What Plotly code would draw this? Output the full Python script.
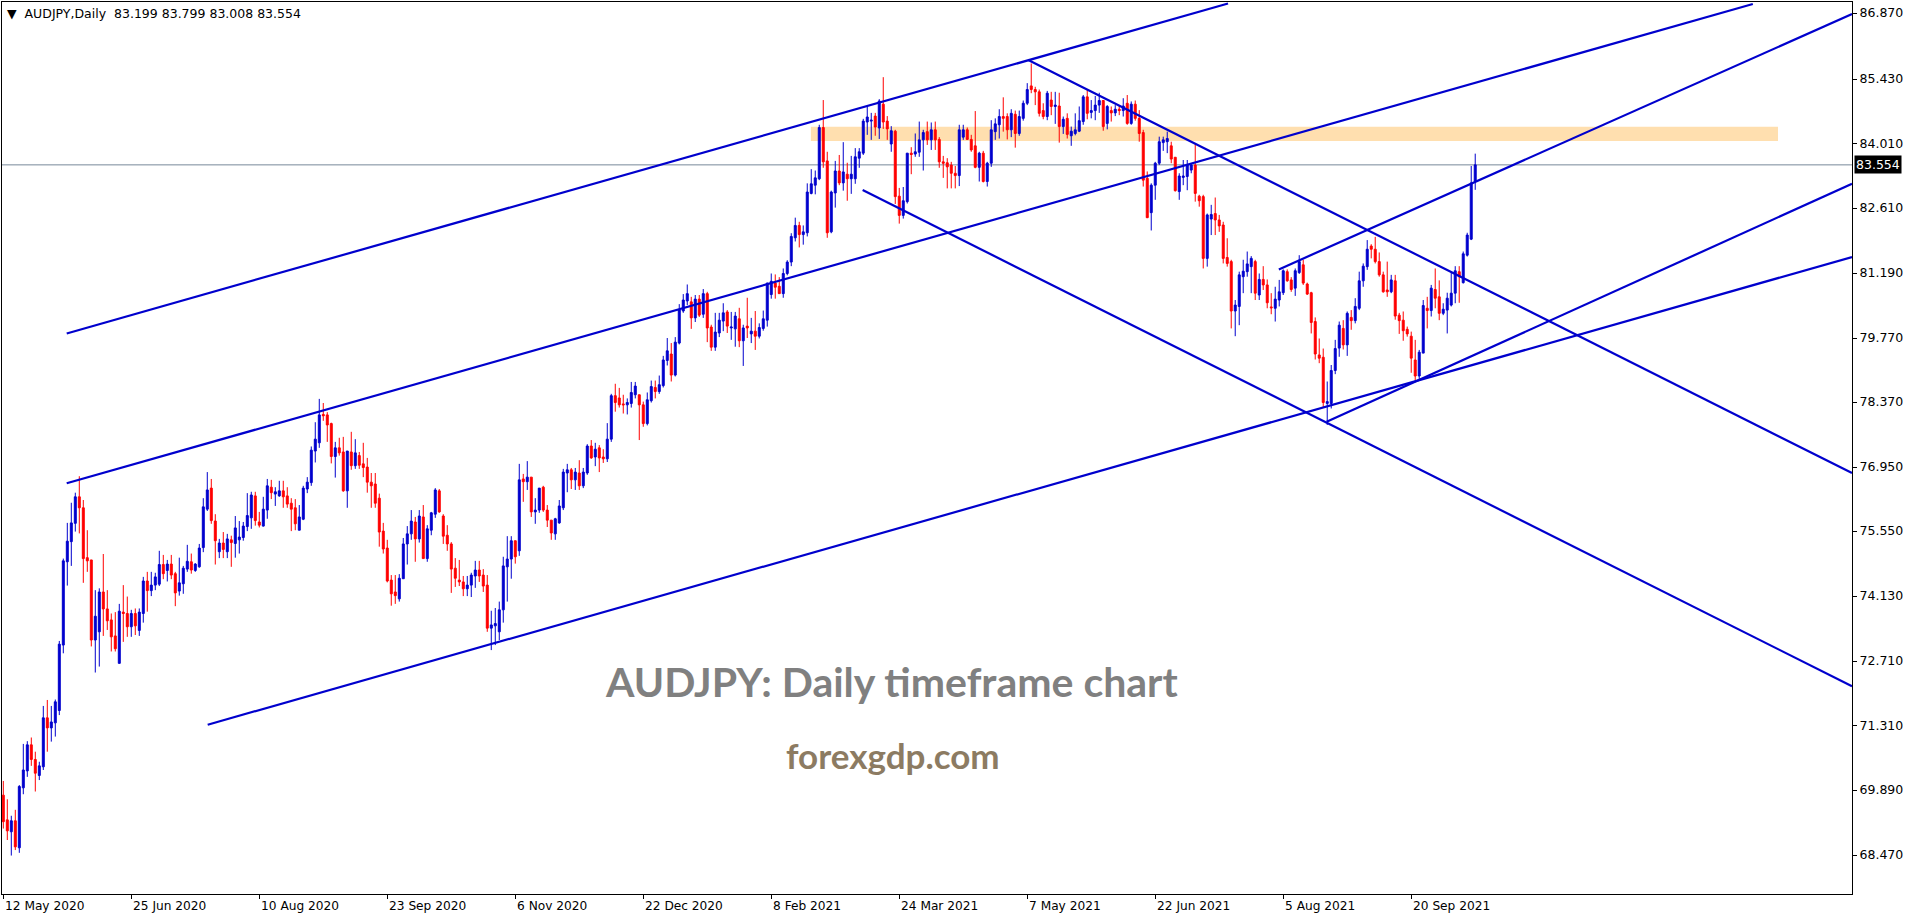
import plotly.graph_objects as go

# ---------------- data ----------------
OPEN = [
69.78,69.24,68.98,69.22,68.63,69.94,70.31,70.88,70.56,70.21,
70.40,71.47,71.25,71.36,71.63,73.06,74.88,75.32,75.72,76.30,
76.06,74.97,74.92,73.17,73.35,74.22,73.85,73.61,73.26,72.66,
73.78,73.75,73.46,73.75,73.38,73.75,74.46,74.25,74.37,74.39,
74.82,74.69,74.83,74.62,74.24,74.40,74.72,74.88,74.69,74.77,
75.19,76.03,76.49,75.77,75.10,75.29,75.10,75.36,75.28,75.36,
75.41,75.65,75.84,76.32,75.75,75.66,76.01,76.51,76.36,76.32,
76.43,76.32,76.16,76.06,75.57,75.81,76.47,76.61,77.30,77.48,
78.10,78.09,77.90,77.18,77.37,77.28,76.43,77.28,76.98,77.20,
77.02,76.95,76.62,76.58,76.27,75.55,75.18,74.48,74.22,74.07,
74.51,75.27,75.49,75.75,75.38,75.86,74.95,75.57,75.92,76.43,
75.88,75.46,75.27,74.74,74.48,74.44,74.29,74.37,74.57,74.70,
74.59,74.37,73.43,73.48,73.35,73.83,74.77,74.94,75.34,75.12,
76.69,76.63,76.73,75.97,76.01,76.51,76.01,75.79,75.49,75.73,
76.06,76.82,76.89,76.67,76.82,76.54,76.82,77.41,77.17,77.37,
77.17,77.13,77.56,78.51,78.46,78.33,78.31,78.34,78.53,78.53,
78.31,77.90,78.40,78.69,78.60,78.73,79.28,79.42,78.96,79.66,
80.36,80.58,80.56,80.21,80.62,80.29,80.74,80.01,79.57,79.88,
80.14,80.34,79.99,79.97,80.19,79.71,80.03,79.86,79.92,79.81,
79.98,80.16,80.72,80.97,80.90,80.74,81.18,81.43,81.96,82.23,
82.03,82.07,82.93,83.11,83.25,84.37,83.64,82.09,82.94,83.42,
83.16,83.35,83.25,83.25,83.70,83.81,84.49,84.51,84.62,84.36,
84.88,84.51,84.01,84.29,82.87,82.45,82.75,83.81,83.79,83.83,
84.10,84.28,84.10,84.32,84.11,83.62,83.60,83.55,83.37,83.32,
84.16,84.32,84.11,83.97,83.50,83.81,83.19,83.59,84.28,84.43,
84.61,84.61,84.32,84.66,84.24,84.57,84.90,85.28,85.20,85.15,
84.74,84.61,84.97,84.83,84.84,84.39,84.57,84.19,84.24,84.29,
84.50,85.04,84.70,84.74,84.86,84.96,84.46,84.74,84.69,84.77,
84.74,84.90,84.46,84.88,84.57,84.26,83.26,82.51,83.11,83.59,
84.04,84.06,83.97,83.72,82.97,83.28,83.30,83.44,83.55,82.87,
82.86,81.51,82.37,82.49,82.35,82.24,81.53,81.44,80.36,80.46,
81.11,81.22,81.33,81.44,80.71,81.05,80.93,80.45,80.42,80.60,
80.76,81.22,81.04,80.86,81.20,81.37,80.95,80.76,80.13,79.40,
79.35,78.34,78.34,79.06,79.55,79.98,79.62,80.22,80.15,80.42,
81.02,81.33,81.78,81.71,81.44,81.15,80.82,80.78,81.02,80.27,
80.16,79.96,79.81,79.29,78.94,79.44,80.42,80.37,80.83,80.67,
80.31,80.38,80.49,80.75,81.22,80.98,81.58,81.93,83.199]

HIGH = [
70.09,69.69,69.33,69.46,70.00,70.90,70.96,71.04,70.73,70.51,
71.73,71.86,71.73,71.87,73.15,74.95,75.73,76.17,76.39,76.75,
76.23,75.57,74.92,74.26,74.30,75.05,74.26,73.75,73.78,73.96,
74.37,74.12,73.83,73.86,73.86,74.55,74.66,74.66,74.64,75.12,
75.03,74.92,75.03,74.66,74.97,74.79,75.25,75.06,74.85,75.27,
76.27,76.84,76.69,75.92,75.38,75.53,75.49,75.45,75.88,75.77,
75.75,76.38,76.41,76.41,75.97,76.30,76.69,76.67,76.51,76.65,
76.65,76.51,76.27,76.25,76.12,76.54,76.73,77.40,77.93,78.44,
78.35,78.15,77.92,77.50,77.59,77.61,77.30,77.72,77.56,77.28,
77.48,77.15,76.82,76.82,76.37,75.73,75.36,74.59,74.59,74.61,
75.40,75.66,76.01,75.86,76.01,76.12,75.68,75.97,76.49,76.47,
75.92,75.68,75.31,74.96,74.92,74.57,74.57,74.64,74.90,74.90,
74.72,74.59,73.81,73.87,74.01,74.99,75.44,75.44,75.34,77.02,
76.80,77.08,76.73,76.27,76.49,76.54,76.12,75.79,75.84,76.23,
76.91,77.02,76.93,76.93,77.10,76.93,77.45,77.54,77.48,77.43,
77.34,77.91,78.55,78.77,78.68,78.53,78.45,78.81,78.81,78.53,
78.38,78.58,78.84,78.84,78.95,79.38,79.77,79.66,79.79,80.51,
80.73,80.94,80.67,80.71,80.71,80.84,80.78,80.06,80.32,80.32,
80.53,80.38,80.34,80.34,80.43,80.06,80.65,80.21,80.36,80.09,
80.37,80.98,81.18,81.16,81.10,81.29,81.47,82.06,82.40,82.31,
82.23,83.15,83.46,83.43,84.43,84.97,83.84,82.99,83.64,83.77,
84.05,83.60,83.75,83.92,83.92,84.56,84.82,84.69,84.69,84.99,
85.47,84.62,84.40,84.32,83.05,83.07,83.81,83.94,84.24,84.50,
84.32,84.50,84.48,84.50,84.16,83.75,83.70,83.62,83.53,84.43,
84.43,84.37,84.21,84.73,83.84,83.86,83.62,84.53,84.57,84.77,
85.03,84.68,84.77,84.74,84.74,84.96,85.34,85.77,85.26,85.20,
84.90,85.17,85.15,85.15,85.13,84.61,84.68,84.39,84.68,84.83,
85.08,85.19,84.97,85.06,85.13,84.97,84.86,84.83,84.86,84.86,
85.01,85.08,84.94,84.96,84.75,84.32,83.41,83.15,83.62,84.17,
84.17,84.28,84.06,83.72,83.37,83.66,83.66,83.59,84.02,82.90,
82.90,82.49,82.68,82.84,82.46,82.31,81.95,81.48,80.60,81.22,
81.48,81.66,81.56,81.48,81.18,81.34,81.05,80.75,80.89,81.04,
81.27,81.27,81.10,81.29,81.58,81.48,80.98,80.78,80.22,79.76,
79.54,78.82,79.18,79.73,80.13,80.16,80.35,80.38,80.64,81.22,
81.40,81.91,81.82,81.98,81.64,81.22,81.44,81.15,81.15,80.32,
80.35,80.02,79.91,79.73,79.51,80.60,80.67,80.93,81.29,81.03,
80.53,80.76,81.22,81.34,81.34,81.66,82.07,83.53,83.799]

LOW = [
69.05,68.80,68.46,68.58,68.52,69.80,70.18,70.42,69.86,70.11,
70.33,70.73,70.95,71.06,71.53,72.88,74.36,74.79,75.54,75.50,
74.42,74.66,73.03,72.46,72.59,73.26,73.39,72.92,72.92,72.66,
73.13,73.24,73.24,73.28,73.26,73.55,73.79,74.13,74.26,74.35,
74.50,74.45,74.50,73.91,74.14,74.18,74.66,74.62,74.66,74.75,
75.09,75.99,75.71,74.82,74.96,74.96,74.96,74.77,74.97,75.06,
75.34,75.55,75.60,75.67,75.63,75.65,75.82,76.25,76.10,76.30,
76.06,76.06,75.55,75.57,75.57,75.79,76.38,76.54,77.05,77.37,
77.96,77.50,77.03,76.72,77.20,76.41,76.06,76.89,76.91,76.91,
76.73,76.39,76.06,76.06,75.21,75.06,74.43,73.92,73.96,74.01,
74.51,74.82,75.36,74.88,75.30,74.95,74.88,75.46,75.84,75.95,
75.27,75.12,74.20,74.33,74.35,74.13,74.13,74.11,74.31,74.44,
74.22,73.35,72.95,73.06,73.17,73.55,74.01,74.51,74.84,75.01,
76.19,76.45,75.86,75.71,75.95,75.97,75.64,75.36,75.36,75.71,
76.01,76.40,76.47,76.45,76.45,76.49,76.78,77.13,76.97,76.84,
77.04,77.06,77.50,78.16,78.25,78.12,78.10,78.25,78.45,77.54,
77.83,77.86,78.36,78.45,78.55,78.69,79.17,78.82,78.93,79.63,
80.32,80.49,79.97,80.12,80.23,80.21,79.68,79.49,79.49,79.79,
79.92,79.88,79.73,79.58,79.57,79.16,79.77,79.66,79.51,79.76,
79.93,80.02,80.63,80.63,80.74,80.65,81.14,81.34,81.88,81.75,
81.81,81.99,82.91,82.91,83.22,83.49,81.96,82.06,82.62,83.11,
82.99,82.77,82.92,83.14,83.49,83.77,84.21,84.10,84.19,84.12,
84.34,84.10,83.84,82.70,82.27,82.38,82.71,83.35,83.73,83.73,
83.43,83.99,83.88,83.88,83.49,83.27,83.04,83.04,83.04,83.09,
84.10,84.10,83.84,83.48,83.19,83.17,83.08,83.51,84.10,84.13,
84.28,84.11,84.16,83.93,84.19,84.52,84.86,85.12,84.86,84.61,
84.55,84.53,84.64,84.45,84.04,84.23,84.13,83.97,84.20,84.27,
84.43,84.55,84.57,84.53,84.69,84.30,84.33,84.50,84.62,84.64,
84.61,84.43,84.43,84.52,84.06,83.08,82.39,82.12,82.79,83.55,
83.86,83.81,83.59,82.97,82.79,83.11,83.00,83.37,82.75,82.64,
81.29,81.33,82.02,82.02,82.09,81.40,81.33,79.98,79.81,80.05,
80.75,81.11,80.75,80.60,80.60,80.82,80.42,80.29,80.13,80.46,
80.71,81.00,80.78,80.69,81.17,80.93,80.71,79.87,79.30,79.22,
78.26,77.87,78.23,78.98,79.36,79.52,79.38,79.95,80.09,80.38,
80.89,81.26,81.51,81.40,81.11,80.76,80.67,80.75,80.17,79.86,
79.71,79.80,79.01,78.85,78.85,79.44,79.98,80.24,80.42,80.16,
80.27,79.87,80.46,80.53,80.54,80.96,81.55,81.91,83.008]

CLOSE = [
69.20,69.00,69.22,68.65,69.97,70.33,70.88,70.56,70.26,70.42,
71.47,71.25,71.38,71.82,73.08,74.90,75.33,75.73,76.30,76.06,
74.95,74.90,73.17,73.69,74.22,73.85,73.59,73.24,72.98,73.80,
73.75,73.46,73.75,73.48,73.78,74.46,74.25,74.37,74.55,74.82,
74.62,74.83,74.59,74.20,74.42,74.74,74.89,74.70,74.83,75.18,
76.08,76.45,75.78,75.34,75.29,75.15,75.38,75.30,75.62,75.42,
75.66,75.89,76.34,75.78,75.68,76.03,76.54,76.39,76.41,76.43,
76.30,76.14,76.03,75.71,75.86,76.49,76.62,77.32,77.56,78.09,
78.07,77.87,77.18,77.37,77.26,76.43,77.30,76.98,77.26,76.99,
76.94,76.62,76.54,76.16,75.53,75.16,74.46,74.18,74.14,74.52,
75.27,75.49,75.77,75.38,75.88,74.95,75.60,75.95,76.45,75.97,
75.44,75.27,74.72,74.52,74.44,74.29,74.37,74.59,74.70,74.57,
74.35,73.43,73.50,73.53,73.83,74.79,74.94,75.34,74.99,76.67,
76.63,76.73,75.97,76.01,76.49,76.01,75.79,75.51,75.82,76.10,
76.84,76.89,76.67,76.84,76.54,76.84,77.41,77.15,77.34,77.15,
77.13,77.56,78.51,78.36,78.31,78.31,78.36,78.58,78.72,78.31,
77.90,78.42,78.71,78.60,78.75,79.29,79.49,78.96,79.68,80.38,
80.60,80.74,80.21,80.62,80.27,80.74,79.99,79.57,79.90,80.16,
80.32,80.03,80.01,80.25,79.71,79.99,79.99,79.92,79.81,80.00,
80.19,80.97,81.01,80.88,80.74,81.18,81.43,81.99,82.23,82.03,
82.09,82.96,83.14,83.27,84.37,83.62,82.07,82.96,83.42,83.16,
83.40,83.25,83.35,83.73,83.84,84.51,84.60,84.53,84.38,84.95,
84.49,84.34,84.30,82.86,82.45,82.77,83.81,83.78,83.84,84.10,
84.26,84.10,84.32,84.10,83.62,83.59,83.51,83.37,83.32,84.32,
84.32,84.11,83.88,83.50,83.81,83.19,83.59,84.32,84.45,84.61,
84.57,84.32,84.68,84.24,84.61,84.90,85.20,85.20,85.15,84.68,
84.61,85.12,84.83,84.86,84.39,84.55,84.22,84.29,84.32,84.52,
85.04,84.68,84.74,84.86,84.96,84.39,84.83,84.69,84.77,84.74,
84.84,84.46,84.88,84.57,84.24,83.22,82.40,83.11,83.59,84.06,
84.10,84.13,83.68,82.99,83.31,83.31,83.55,83.55,82.93,82.77,
81.51,82.46,82.47,82.35,82.22,81.51,81.40,80.36,80.49,81.15,
81.23,81.39,81.51,80.75,81.05,80.93,80.54,80.43,80.62,80.78,
81.24,81.02,80.83,81.24,81.44,80.97,80.73,80.11,79.42,79.33,
78.36,78.38,79.06,79.54,80.05,79.62,80.31,80.15,80.46,81.02,
81.34,81.71,81.71,81.44,81.15,80.78,80.78,81.04,80.25,80.15,
79.93,79.86,79.33,78.94,79.46,80.48,80.37,80.86,80.64,80.31,
80.40,80.64,80.75,81.24,81.11,81.61,82.02,83.16,83.554]

BARS = list(range(len(CLOSE)))

DATE_TICK_BARS = [0, 32, 64, 96, 128, 160, 192, 224, 256, 288, 320, 352]
DATE_TICK_TEXT = ["12 May 2020", "25 Jun 2020", "10 Aug 2020", "23 Sep 2020",
                  "6 Nov 2020", "22 Dec 2020", "8 Feb 2021", "24 Mar 2021",
                  "7 May 2021", "22 Jun 2021", "5 Aug 2021", "20 Sep 2021"]

PRICE_TICKS = [86.870, 85.430, 84.010, 82.610, 81.190, 79.770, 78.370,
               76.950, 75.550, 74.130, 72.710, 71.310, 69.890, 68.470]

# trend lines (bar index, price) start/end
TREND_X0 = [15.85, 15.85, 51.1, 256.25, 214.85, 318.9, 330.85]
TREND_Y0 = [79.87, 76.595, 71.32, 85.846, 83.005, 81.27, 77.94]
TREND_X1 = [306.2, 437.4, 462.2, 462.2, 462.2, 462.2, 462.2]
TREND_Y1 = [87.08, 87.07, 81.54, 76.82, 72.16, 86.85, 83.14]

ZONE_X = [201.9, 443.7]
ZONE_Y = [84.076, 84.388]

LAST_PRICE = 83.554
HEADER = "AUDJPY,Daily  83.199 83.799 83.008 83.554"

X_RANGE = [-0.325, 462.2]
Y_RANGE = [67.62, 87.113]

BLUE = "#0000CD"
RED = "#FF0000"
FONT = "DejaVu Sans"

fig = go.Figure()

fig.add_trace(go.Candlestick(
    x=BARS, open=OPEN, high=HIGH, low=LOW, close=CLOSE,
    increasing=dict(line=dict(color=BLUE, width=1), fillcolor=BLUE),
    decreasing=dict(line=dict(color=RED, width=1), fillcolor=RED),
    whiskerwidth=0, hoverinfo="skip", showlegend=False))

for x0, y0, x1, y1 in zip(TREND_X0, TREND_Y0, TREND_X1, TREND_Y1):
    fig.add_trace(go.Scatter(x=[x0, x1], y=[y0, y1], mode="lines",
                             line=dict(color=BLUE, width=2.2),
                             hoverinfo="skip", showlegend=False))

fig.add_shape(type="rect", xref="x", yref="y", x0=ZONE_X[0], x1=ZONE_X[1],
              y0=ZONE_Y[0], y1=ZONE_Y[1], fillcolor="#FFDFAF",
              line=dict(width=0), layer="below")
fig.add_shape(type="line", xref="paper", yref="y", x0=0, x1=1,
              y0=LAST_PRICE, y1=LAST_PRICE,
              line=dict(color="#778899", width=1), layer="below")

annotations = []
for b, t in zip(DATE_TICK_BARS, DATE_TICK_TEXT):
    annotations.append(dict(x=b, xref="x", y=0, yref="paper", text=t,
                            showarrow=False, xanchor="left", yanchor="top",
                            xshift=0, yshift=-3,
                            font=dict(family=FONT, size=12.2, color="black")))
annotations.append(dict(x=0, xref="paper", y=1, yref="paper",
                        text="\u25BC  " + HEADER, showarrow=False,
                        xanchor="left", yanchor="top", xshift=3, yshift=-2,
                        font=dict(family=FONT, size=12.5, color="black")))
annotations.append(dict(x=1, xref="paper", y=LAST_PRICE, yref="y",
                        text="%.3f" % LAST_PRICE, showarrow=False,
                        xanchor="left", yanchor="middle", xshift=2,
                        bgcolor="black", borderpad=1,
                        font=dict(family=FONT, size=12.5, color="white")))
annotations.append(dict(x=0.481, xref="paper", y=0.209, yref="paper",
                        text="<b>AUDJPY: Daily timeframe chart</b>",
                        showarrow=False,
                        font=dict(family="Lato", size=41, color="#808080")))
annotations.append(dict(x=0.4816, xref="paper", y=0.1295, yref="paper",
                        text="<b>forexgdp.com</b>", showarrow=False,
                        font=dict(family="Lato", size=35, color="#8C7B62")))

fig.update_layout(
    width=1916, height=920,
    margin=dict(l=2, r=64, t=2, b=26, pad=0),
    paper_bgcolor="white", plot_bgcolor="white",
    showlegend=False,
    annotations=annotations,
    xaxis=dict(range=X_RANGE, showgrid=False, zeroline=False,
               showline=True, mirror=True, linecolor="black", linewidth=1,
               ticks="outside", ticklen=4, tickcolor="black",
               tickvals=DATE_TICK_BARS, showticklabels=False,
               rangeslider=dict(visible=False), fixedrange=True),
    yaxis=dict(range=Y_RANGE, side="right", showgrid=False, zeroline=False,
               showline=True, mirror=True, linecolor="black", linewidth=1,
               ticks="outside", ticklen=4, tickcolor="black",
               tickvals=PRICE_TICKS,
               ticktext=["%.3f" % v for v in PRICE_TICKS],
               tickfont=dict(family=FONT, size=12.5, color="black"),
               fixedrange=True),
)

fig.write_html("out.html", config={"displayModeBar": False},
               post_script="document.body.style.margin='0';document.body.style.overflow='hidden';")
